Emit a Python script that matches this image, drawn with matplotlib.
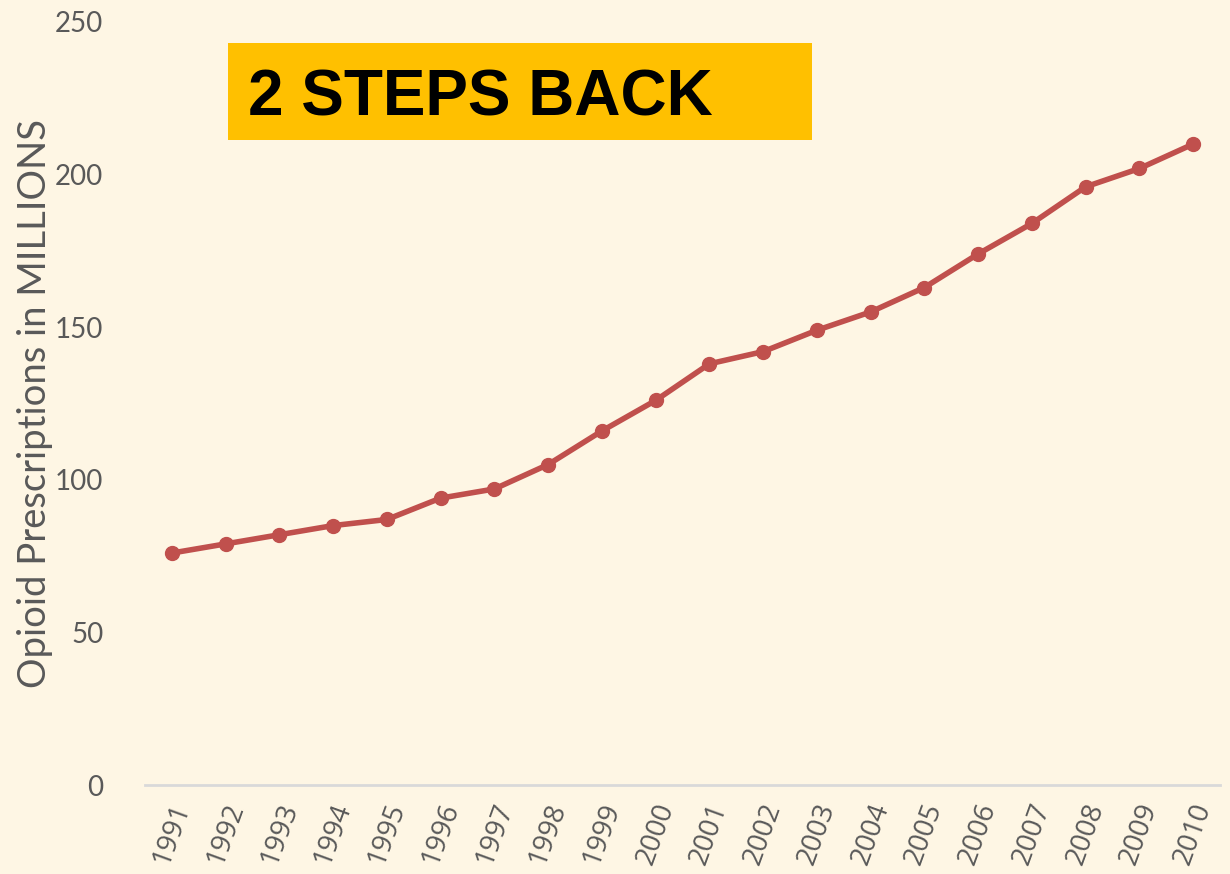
import matplotlib
matplotlib.use("Agg")
import matplotlib.pyplot as plt

years = [str(y) for y in range(1991, 2011)]
values = [76, 79, 82, 85, 87, 94, 97, 105, 116, 126, 138, 142, 149, 155, 163, 174, 184, 196, 202, 210]
yticks = [0, 50, 100, 150, 200, 250]

bg = "#FEF6E4"
fig = plt.figure(figsize=(12.3, 8.74), dpi=100, facecolor=bg)
ax = fig.add_axes([145/1230, 89/874, 1075/1230, (785-22)/874], facecolor=bg)

x = list(range(len(years)))
ax.plot(x, values, color="#C0504D", lw=4, marker="o", ms=10, solid_capstyle="round")

ax.set_xlim(-0.5, len(years) - 0.5)
ax.set_ylim(0, 250)
ax.set_yticks(yticks)
ax.set_xticks(x)
ax.set_xticklabels(years, rotation=70, ha="center", va="top", fontsize=20, color="#595959",
                   family="Open Sans")
ax.set_yticklabels([str(t) for t in yticks], fontsize=20, color="#595959", family="Lato")
ax.tick_params(axis="both", length=0)
ax.tick_params(axis="y", pad=30)
ax.tick_params(axis="x", pad=10)
for s in ["top", "right", "left"]:
    ax.spines[s].set_visible(False)
ax.spines["bottom"].set_color("#D9D9D9")
ax.spines["bottom"].set_linewidth(2)

fig.text(35/1230, 1 - 404/874, "Opioid Prescriptions in MILLIONS", fontsize=27.5, color="#595959",
         family="Lato", rotation=90, ha="center", va="center")

fig.patches.append(plt.Rectangle((228/1230, 1 - 140/874), (812-228)/1230, (140-43)/874,
                                 transform=fig.transFigure, facecolor="#FFC000", edgecolor="none"))
fig.text(248/1230, 1 - 115/874, "2 STEPS BACK", fontsize=46, fontweight="bold", family="Liberation Sans",
         color="black", va="baseline", ha="left")

fig.savefig("out.png", dpi=100, facecolor=bg)
